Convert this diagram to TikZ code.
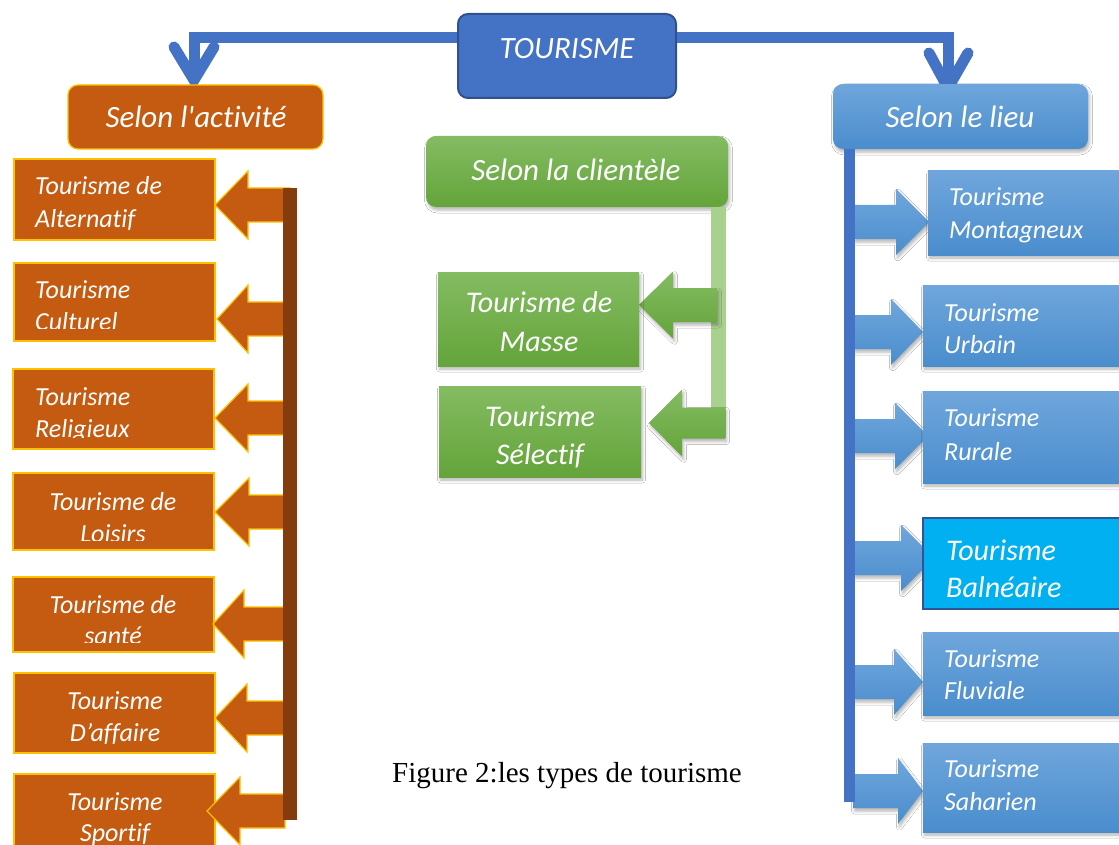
\documentclass[tikz,border=0pt]{standalone}
\usepackage{fontspec}
\setmainfont{Carlito}[Ligatures={TeX,NoCommon}]
\newfontfamily\capfont{Liberation Serif}
\usetikzlibrary{shadows,shadows.blur}
\definecolor{orng}{HTML}{C55A11}
\definecolor{gold}{HTML}{FFC000}
\definecolor{brn}{HTML}{843C0C}
\definecolor{bmain}{HTML}{4472C4}
\definecolor{bdark}{HTML}{2F528F}
\definecolor{btop}{HTML}{6FA6DC}
\definecolor{bbot}{HTML}{4A8DCD}
\definecolor{gtop}{HTML}{84BC62}
\definecolor{gbot}{HTML}{64A43A}
\definecolor{glight}{HTML}{A9D18E}
\definecolor{cyanb}{HTML}{00B0F0}
\definecolor{cyanbd}{HTML}{2F5597}
\newcommand\TwoLn[7]{\node[#2] (#1a) at (#3,#4) {#6};\node[#2] (#1b) at (#3,#5) {#7};}
\newcommand\LArr[7]{\path[#1] (#2,#3) -- (#4,#3-#6) -- (#4,#3-#7) -- (#5,#3-#7) -- (#5,#3+#7) -- (#4,#3+#7) -- (#4,#3+#6) -- cycle;}
\begin{document}
\begin{tikzpicture}[x=1pt,y=-1pt,
  shd/.style={blur shadow={shadow xshift=1.5pt, shadow yshift=-3pt, shadow blur radius=3pt, shadow opacity=30}},
  tbox/.style={draw=bdark, line width=2pt, fill=bmain, rounded corners=10pt, minimum width=218, minimum height=84, inner sep=0},
  obox/.style={draw=gold, line width=1.3pt, fill=orng, inner sep=0},
  bbox/.style={top color=btop, bottom color=bbot, draw=none, inner sep=0, shd},
  gbox/.style={top color=gtop, bottom color=gbot, draw=none, inner sep=0, shd},
  cbox/.style={fill=cyanb, draw=cyanbd, line width=2pt, inner sep=0},
  htxt/.style={text=white, font=\fontsize{31}{37}\selectfont\itshape, inner sep=0, anchor=base},
  ltxt/.style={text=white, font=\fontsize{26}{31}\selectfont\itshape, inner sep=0, anchor=base west},
  ctxt/.style={ltxt, anchor=base},
  gtxt/.style={text=white, font=\fontsize{30}{36}\selectfont\itshape, inner sep=0, anchor=base},
  wtxt/.style={gtxt, anchor=base west},
  oarr/.style={fill=orng, draw=gold, line width=1.2pt, line join=miter},
  barr/.style={top color=btop, bottom color=bbot, shd},
  garr/.style={top color=gtop, bottom color=gbot, shd},
  conn/.style={draw=bmain, line width=11pt},
  chev/.style={draw=bmain, line width=11pt, line cap=round, line join=miter},
]
\fill[white] (0,0) rectangle (1119,845);
\useasboundingbox (0,0) rectangle (1119,845);

% ---- top level
\node[tbox] (tour) at (567,56) {};
\node[htxt] (tourt) at (567,58.5) {TOURISME};
\coordinate (lt) at (194,80);
\coordinate (rt) at (948,88);
\draw[conn] ([yshift=18pt]tour.west) -| (lt);
\draw[conn] ([yshift=18pt]tour.east) -| (rt);
\draw[chev] (174,47) -- (lt) -- (214,47);
\draw[chev] (929,53) -- (rt) -- (968,53);

\node[obox, rounded corners=10pt, minimum width=255, minimum height=64] (act) at (195.5,117) {};
\node[htxt] (actt) at (196,128) {Selon l\textquotesingle activité};
\node[bbox, rounded corners=10pt, minimum width=255, minimum height=65] (lieu) at (960.5,116.5) {};
\node[htxt] (lieut) at (960,128) {Selon le lieu};
\node[gbox, rounded corners=10pt, minimum width=302, minimum height=71] (cli) at (577,171.5) {};
\node[htxt] (clit) at (576,181) {Selon la clientèle};

% ---- left column (activité)
\node[obox, minimum width=201, minimum height=81] (a1) at (114.5,199.5) {};
\TwoLn{a1t}{ltxt}{35}{195}{228}{Tourisme de}{Alternatif}
\node[obox, minimum width=201, minimum height=78] (a2) at (114.5,302) {};
\begin{scope}\clip (14,264) rectangle (215,328);
\TwoLn{a2t}{ltxt}{35}{298}{330}{Tourisme}{Culturel}
\end{scope}
\node[obox, minimum width=201, minimum height=80] (a3) at (113.5,409) {};
\begin{scope}\clip (13,370) rectangle (214,437);
\TwoLn{a3t}{ltxt}{35}{405}{437}{Tourisme}{Religieux}
\end{scope}
\node[obox, minimum width=201, minimum height=77] (a4) at (113.5,511.5) {};
\begin{scope}\clip (13,474) rectangle (214,540);
\TwoLn{a4t}{ctxt}{113}{510}{542}{Tourisme de}{Loisirs}
\end{scope}
\node[obox, minimum width=201, minimum height=75] (a5) at (113.5,614.5) {};
\begin{scope}\clip (13,578) rectangle (214,642);
\TwoLn{a5t}{ctxt}{113}{613}{644}{Tourisme de}{santé}
\end{scope}
\node[obox, minimum width=201, minimum height=80] (a6) at (114.5,713) {};
\TwoLn{a6t}{ctxt}{115}{709}{741}{Tourisme}{D’affaire}
\node[obox, minimum width=201, minimum height=86] (a7) at (114.5,817) {};
\TwoLn{a7t}{ctxt}{115}{810}{841}{Tourisme}{Sportif}

\LArr{oarr}{215}{205}{248}{290}{34}{17}
\LArr{oarr}{217}{319}{248}{290}{34}{17}
\LArr{oarr}{215}{418}{248}{290}{34}{17}
\LArr{oarr}{215}{512}{249}{290}{34}{17}
\LArr{oarr}{213}{624}{244}{290}{34}{17}
\LArr{oarr}{215}{718}{247}{290}{34}{17}
\LArr{oarr}{207}{811}{240}{285}{34}{17}
\fill[brn] (283,188) rectangle (297,820);

% ---- middle column (clientèle)
\draw[glight, line width=15pt] ([xshift=-10pt]cli.south east) -- ++(0,231);
\LArr{garr}{639}{305}{673}{717}{33.5}{17}
\LArr{garr}{649}{423}{682}{725}{33.5}{15.5}
\node[gbox, minimum width=201, minimum height=94] (g1) at (538.5,319) {};
\TwoLn{g1t}{gtxt}{539}{312.5}{351.5}{Tourisme de}{Masse}
\node[gbox, minimum width=202, minimum height=91] (g2) at (540,431.5) {};
\TwoLn{g2t}{gtxt}{540}{426.5}{464.5}{Tourisme}{Sélectif}

% ---- right column (lieu)
\LArr{barr}{929}{222}{896}{853}{33}{17}
\LArr{barr}{923}{332}{891}{853}{33}{17}
\LArr{barr}{928}{436}{895}{853}{33}{17}
\LArr{barr}{934}{558}{901}{853}{33}{17}
\LArr{barr}{923}{682}{894}{853}{33}{17}
\LArr{barr}{923}{791}{898}{853}{33}{17}
\draw[draw=bmain, line width=11pt] ([xshift=17pt]lieu.south west) -- ++(0,653);

\node[bbox, minimum width=212, minimum height=84] (r1) at (1034,213) {};
\TwoLn{r1t}{ltxt}{949}{206}{239}{Tourisme}{Montagneux}
\node[bbox, minimum width=217, minimum height=81] (r2) at (1031.5,325.5) {};
\TwoLn{r2t}{ltxt}{944}{321}{353}{Tourisme}{Urbain}
\node[bbox, minimum width=217, minimum height=92] (r3) at (1031.5,437) {};
\TwoLn{r3t}{ltxt}{944}{426}{460}{Tourisme}{Rurale}
\node[cbox, minimum width=217, minimum height=91] (r4) at (1031.5,563.5) {};
\TwoLn{r4t}{wtxt}{946}{560.5}{597.5}{Tourisme}{Balnéaire}
\node[bbox, minimum width=217, minimum height=83] (r5) at (1031.5,673.5) {};
\TwoLn{r5t}{ltxt}{944}{667}{699}{Tourisme}{Fluviale}
\node[bbox, minimum width=217, minimum height=89] (r6) at (1031.5,787.5) {};
\TwoLn{r6t}{ltxt}{944}{777}{810}{Tourisme}{Saharien}

% ---- caption
\node[font=\capfont\fontsize{29}{34}\selectfont, anchor=base, inner sep=0] (cap) at (567,782.5) {Figure 2:les types de tourisme};
\end{tikzpicture}
\end{document}
